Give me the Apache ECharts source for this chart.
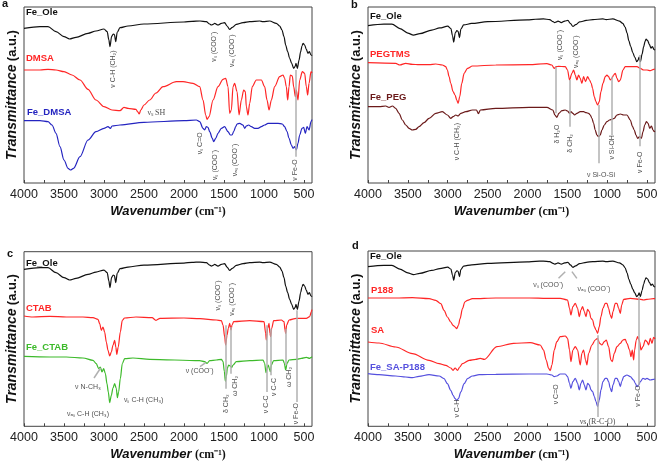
<!DOCTYPE html>
<html><head><meta charset="utf-8">
<script src="https://cdn.jsdelivr.net/npm/echarts@6/dist/echarts.min.js"></script>
<style>html,body{margin:0;padding:0;background:#fff}#c{width:658px;height:464px}</style>
</head><body><div id="c"></div>
<script>
// ---- axis tick labels (wavenumber, cm-1) ----
const wnLabels = [4000,3500,3000,2500,2000,1500,1000,500];
const wnTicks = [4000,3750,3500,3250,3000,2750,2500,2250,2000,1750,1500,1250,1000,750,500];

// ---- spectra: [wavenumber, transmittance (arbitrary units, offset stacked)] ----
const feOle = [[4000,464],[3800,469],[3700,469],[3600,454],[3500,439],[3430,432],[3350,437],[3200,449],[3100,456],[3000,462],[2960,454],[2940,430],[2925,409],[2905,440],[2885,447],[2870,445],[2853,424],[2835,452],[2800,466],[2700,471],[2500,477],[2000,483],[1900,485],[1800,486],[1721,484],[1679,477],[1658,474],[1637,476],[1617,479],[1575,474],[1533,479],[1492,481],[1462,471],[1429,461],[1396,467],[1346,476],[1262,481],[1179,484],[1054,486],[1012,484],[929,486],[846,479],[804,471],[775,459],[750,439],[729,414],[704,394],[679,374],[654,359],[629,344],[612,349],[600,359],[583,344],[562,369],[542,394],[525,411],[512,419],[492,414],[471,401],[450,389],[433,394],[412,384],[400,382]];

const dmsa = [[4000,339],[3800,339],[3700,341],[3600,339],[3500,334],[3400,324],[3300,309],[3200,281],[3100,249],[3000,229],[2900,219],[2800,217],[2750,227],[2700,224],[2600,221],[2580,214],[2560,207],[2540,219],[2500,234],[2429,249],[2350,270],[2262,289],[2096,304],[2012,304],[1887,299],[1804,289],[1762,249],[1729,204],[1712,191],[1687,199],[1637,249],[1575,289],[1512,311],[1479,314],[1450,289],[1429,209],[1408,219],[1387,289],[1367,299],[1337,274],[1312,204],[1283,249],[1254,279],[1233,274],[1221,229],[1200,204],[1179,239],[1146,289],[1096,309],[1033,309],[992,289],[962,249],[937,219],[908,249],[867,289],[804,319],[762,324],[742,314],[721,289],[704,249],[687,289],[671,324],[646,321],[629,289],[608,259],[596,279],[575,249],[554,309],[521,334],[492,329],[471,289],[454,264],[437,299],[412,334],[400,330]];

const feDmsa = [[4000,187],[3800,187],[3700,184],[3650,174],[3600,149],[3550,109],[3500,69],[3450,44],[3420,39],[3380,44],[3300,79],[3200,129],[3100,154],[3000,164],[2950,169],[2920,164],[2900,171],[2800,174],[2500,182],[2000,187],[1846,189],[1804,184],[1762,164],[1742,159],[1721,169],[1700,167],[1679,154],[1646,134],[1629,124],[1604,134],[1575,149],[1533,164],[1492,169],[1450,154],[1421,144],[1400,144],[1379,154],[1354,169],[1337,177],[1304,179],[1262,174],[1242,164],[1221,171],[1192,174],[1158,169],[1117,164],[1075,164],[1033,169],[992,174],[950,179],[887,179],[825,179],[771,177],[742,169],[712,154],[687,134],[658,114],[637,104],[617,109],[596,99],[575,119],[554,144],[525,164],[504,167],[483,149],[462,169],[437,159],[412,184],[400,190]];

const pegtms = [[4000,361],[3653,359],[3600,354],[3527,359],[3443,356],[3360,355],[3234,355],[3150,357],[3067,354],[3025,349],[3004,339],[2983,319],[2962,299],[2933,274],[2908,264],[2887,249],[2870,239],[2849,259],[2824,299],[2794,329],[2752,344],[2690,351],[2397,354],[1978,355],[1756,358],[1694,354],[1664,344],[1639,349],[1610,350],[1526,349],[1497,339],[1472,309],[1442,329],[1421,339],[1400,324],[1380,309],[1359,324],[1338,314],[1317,299],[1296,319],[1271,304],[1246,319],[1221,309],[1200,299],[1183,284],[1162,259],[1141,244],[1120,234],[1099,244],[1078,274],[1053,299],[1024,319],[1003,324],[982,319],[961,309],[940,314],[919,324],[898,329],[877,314],[856,304],[835,309],[802,339],[773,349],[710,349],[626,349],[584,344],[542,339],[500,339],[459,337],[417,341],[400,342]];

const fePeg = [[4000,229],[3862,229],[3778,231],[3736,227],[3694,231],[3653,224],[3611,209],[3569,189],[3527,174],[3485,164],[3443,159],[3401,161],[3360,169],[3297,181],[3234,194],[3150,209],[3067,214],[3004,204],[2962,194],[2933,199],[2899,204],[2870,201],[2836,209],[2773,214],[2690,219],[2640,219],[2615,208],[2590,219],[2397,224],[1978,227],[1756,227],[1681,219],[1656,204],[1631,197],[1606,209],[1568,217],[1526,219],[1497,216],[1472,209],[1455,214],[1430,209],[1409,204],[1380,209],[1338,214],[1296,214],[1263,211],[1233,209],[1212,204],[1191,194],[1170,179],[1150,159],[1129,144],[1108,139],[1087,144],[1066,159],[1036,174],[1003,184],[970,189],[940,191],[911,194],[877,204],[835,207],[793,204],[752,204],[710,189],[681,169],[660,159],[639,144],[618,134],[592,139],[571,134],[550,154],[529,174],[508,184],[487,179],[466,164],[445,171],[425,159],[408,154],[400,155]];

const ctab = [[4000,331],[3888,328],[3679,330],[3471,328],[3263,328],[3138,326],[3075,321],[3054,308],[3033,288],[3013,298],[2992,283],[2971,253],[2950,228],[2929,211],[2908,223],[2888,243],[2867,258],[2852,238],[2840,216],[2822,238],[2796,283],[2771,318],[2742,325],[2600,328],[2400,326],[2350,318],[2300,324],[2000,325],[1800,323],[1596,319],[1533,317],[1512,304],[1492,269],[1479,244],[1462,274],[1446,294],[1429,309],[1412,289],[1400,304],[1379,314],[1179,317],[1000,314],[979,279],[971,259],[954,294],[937,309],[925,279],[917,269],[904,294],[879,317],[783,319],[750,314],[737,289],[729,279],[717,304],[687,319],[596,324],[471,324],[429,329],[408,344],[400,350]];

const feCtab = [[4000,210],[3679,208],[3471,208],[3263,205],[3138,198],[3096,188],[3067,173],[3046,178],[3025,163],[3004,173],[2983,158],[2963,128],[2946,103],[2929,71],[2908,93],[2888,115],[2867,128],[2846,113],[2833,86],[2817,103],[2796,143],[2771,188],[2742,203],[2638,205],[2429,201],[1804,197],[1742,194],[1712,189],[1679,197],[1596,199],[1533,201],[1512,194],[1496,165],[1483,135],[1471,150],[1458,174],[1442,184],[1421,181],[1404,177],[1387,184],[1346,194],[1179,197],[1012,199],[992,189],[975,161],[962,174],[946,184],[929,169],[921,164],[908,184],[879,197],[762,199],[746,189],[729,169],[712,189],[687,199],[596,201],[533,204],[471,207],[429,204],[408,207],[400,209]];

const p188 = [[4000,385],[3653,385],[3443,386],[3234,383],[3150,378],[3087,368],[3046,348],[3004,328],[2962,313],[2933,303],[2907,298],[2887,293],[2866,303],[2845,323],[2815,353],[2786,373],[2753,378],[2690,383],[2397,385],[1978,385],[1756,384],[1589,384],[1497,379],[1472,354],[1455,334],[1430,359],[1400,369],[1371,354],[1350,329],[1329,349],[1308,359],[1287,344],[1266,329],[1245,351],[1224,344],[1203,324],[1182,319],[1161,299],[1140,289],[1120,279],[1099,299],[1078,329],[1053,354],[1024,369],[1003,369],[982,354],[961,334],[944,324],[927,344],[898,369],[877,369],[856,354],[835,339],[818,364],[793,381],[710,384],[584,381],[542,379],[501,381],[417,383],[400,383]];

const sa = [[4000,253],[3862,250],[3653,238],[3443,218],[3234,198],[3108,188],[3025,183],[2962,175],[2933,168],[2907,175],[2878,168],[2849,178],[2815,188],[2732,198],[2648,201],[2593,204],[2540,201],[2384,239],[2175,249],[1965,251],[1840,244],[1798,229],[1765,199],[1735,174],[1714,167],[1693,184],[1664,229],[1631,254],[1589,269],[1526,271],[1497,264],[1472,229],[1455,194],[1430,229],[1400,239],[1371,229],[1338,184],[1317,219],[1296,229],[1271,199],[1254,184],[1233,219],[1191,244],[1150,259],[1120,264],[1095,249],[1066,244],[1036,254],[1011,259],[982,239],[953,199],[936,194],[911,219],[877,239],[835,249],[802,259],[773,261],[752,249],[719,229],[702,209],[685,229],[668,199],[656,229],[635,259],[618,269],[593,254],[576,229],[551,239],[522,259],[501,254],[480,244],[459,264],[438,249],[417,267],[400,262]];

const feSaP188 = [[4000,158],[3862,155],[3653,151],[3527,148],[3443,146],[3360,150],[3234,155],[3108,151],[3046,143],[3004,128],[2962,108],[2933,93],[2907,83],[2887,78],[2866,83],[2836,103],[2794,128],[2752,143],[2690,151],[2606,155],[2397,156],[1978,157],[1756,157],[1693,154],[1664,149],[1631,151],[1589,157],[1526,157],[1497,149],[1472,129],[1455,114],[1430,134],[1400,144],[1371,129],[1350,109],[1329,129],[1308,139],[1287,124],[1266,109],[1245,129],[1224,124],[1203,109],[1182,104],[1161,89],[1140,74],[1120,59],[1099,79],[1078,109],[1053,134],[1024,144],[1003,144],[982,134],[961,114],[944,104],[927,124],[898,144],[877,144],[856,134],[835,119],[818,134],[793,149],[752,154],[710,149],[668,139],[647,129],[626,119],[605,124],[584,134],[551,144],[522,141],[501,144],[459,139],[417,141],[400,142]];

// ---- annotations: [text, wavenumber, y, rotation, serif?] ----
const annotA = [['ν C-H (CH₂)',2885,342,90],['νₛ (COO⁻)',1625,409,90],['νₐₛ (COO⁻)',1400,397,90],['νₛ SH',2346,209,0,1],['νₛ C=O',1804,119,90],['νₛ (COO⁻)',1617,54,90],['νₐₛ (COO⁻)',1367,69,90],['ν Fe-O',617,39,90]];
const annotB = [['νₛ (COO⁻)',1593,414,90],['νₐₛ (COO⁻)',1384,394,90],['ν C-H (CH₂)',2878,124,90],['δ H₂O',1631,147,90],['δ CH₂',1464,119,90],['ν Si-O-Si',1078,24,0],['ν Si-OH',940,107,90],['ν Fe-O',592,62,90]];
const annotC = [['νₛ (COO⁻)',1575,393,90],['νₐₛ (COO⁻)',1396,381,90],['ν N-CH₃',3200,118,0],['νₐₛ C-H (CH₃)',3200,38,0],['νₛ C-H (CH₃)',2504,78,0],['ν (COO⁻)',1804,167,0],['δ CH₂',1479,68,90],['ω CH₂',1360,121,90],['ν C-C',971,66,90],['ν C-C',879,118,90],['ω CH₂',687,148,90],['ν Fe-O',596,38,90]];
const annotD = [['νₛ (COO⁻)',1740,425,0],['νₐₛ (COO⁻)',1166,411,0],['ν C-H',2878,53,90],['ν C=O',1643,96,90],['νs (R-C-O)',1120,13,0,1],['ν Fe-O',617,91,90]];

// ---- grey marker lines: [wavenumber, yTop, yBottom] and leaders [[x1,y1],[x2,y2]] ----
const linesA = [[604,339,79]];
const linesB = [[1639,349,209],[1472,309,169],[1108,234,59],[940,319,144],[592,384,110]];
const linesC = [[1479,303,113],[1412,298,158],[971,303,103],[921,293,153],[729,293,183],[596,348,73]];
const linesD = [[1120,273,28],[610,388,123]];
const leadersC = [[[3042,175],[3125,145]],[[1729,191],[1800,179]]];
const leadersD = [[[1526,464],[1610,444]],[[1442,464],[1380,444]]];

const RED='#ff2626', BLACK='#111', BLUE='#2424c0', MAROON='#6b1a1a', GREEN='#3dba2b', VIOLET='#5550de';

function shift(arr, off, s){ return arr.map(p => [p[0], off + s*(p[1]-477)]); }

const panels = [
  {grid:{left:24, top:7, width:288, height:176}, ymax:528,
   curves:[[shift(feOle,477,1),BLACK],[dmsa,RED],[feDmsa,BLUE]], annot:annotA, lines:linesA, leaders:[]},
  {grid:{left:368, top:7, width:287, height:176}, ymax:528,
   curves:[[shift(feOle,484,0.9),BLACK],[pegtms,RED],[fePeg,MAROON]], annot:annotB, lines:linesB, leaders:[]},
  {grid:{left:24, top:251.7, width:288, height:174.6}, ymax:524,
   curves:[[shift(feOle,484,1),BLACK],[ctab,RED],[feCtab,GREEN]], annot:annotC, lines:linesC, leaders:leadersC},
  {grid:{left:368, top:251, width:287, height:175.3}, ymax:526,
   curves:[[shift(feOle,489,0.75),BLACK],[p188,RED],[sa,RED],[feSaP188,VIOLET]], annot:annotD, lines:linesD, leaders:leadersD}
];

const SANS='Liberation Sans, Arial, sans-serif', SERIF='Liberation Serif, Times New Roman, serif';
const grids=[], xAxes=[], yAxes=[], series=[];
panels.forEach((p,i)=>{
  grids.push(Object.assign({show:true, borderColor:'#444', borderWidth:1, backgroundColor:'rgba(0,0,0,0)',
    containLabel:false, outerBoundsMode:'none'}, p.grid));
  xAxes.push({type:'value', gridIndex:i, min:400, max:4000, inverse:true,
    axisLine:{show:false}, splitLine:{show:false},
    axisTick:{show:true, inside:true, length:3, lineStyle:{color:'#444'}, customValues:wnTicks},
    axisLabel:{customValues:wnLabels, fontSize:12.5, color:'#222', margin:5, fontFamily:SANS,
      formatter:v=>String(v), hideOverlap:false},
    name:'{a|Wavenumber} {b|(cm⁻¹)}', nameLocation:'middle', nameGap:22,
    nameTextStyle:{rich:{a:{fontSize:13, fontWeight:'bold', fontStyle:'italic', fontFamily:SANS, color:'#111'},
                         b:{fontSize:12, fontWeight:'bold', fontFamily:SERIF, color:'#111'}}}});
  yAxes.push({type:'value', gridIndex:i, min:0, max:p.ymax,
    axisLine:{show:false}, axisTick:{show:false}, axisLabel:{show:false}, splitLine:{show:false},
    name:'{a|Transmittance} {b|(a.u.)}', nameLocation:'middle', nameGap:5,
    nameTextStyle:{rich:{a:{fontSize:14, fontWeight:'bold', fontStyle:'italic', fontFamily:SANS, color:'#111'},
                         b:{fontSize:13, fontWeight:'bold', fontFamily:SANS, color:'#111'}}}});
  const ml = p.lines.map(l=>[{coord:[l[0],l[1]]},{coord:[l[0],l[2]]}])
    .concat(p.leaders.map(s=>[{coord:s[0]},{coord:s[1]}]));
  series.push({type:'line', xAxisIndex:i, yAxisIndex:i, data:[], silent:true,
    markLine:{silent:true, symbol:['none','none'], label:{show:false},
      lineStyle:{color:'#b0b0b0', width:1.5, type:'solid'}, data:ml, animation:false}});
  p.curves.forEach(c=>{
    series.push({type:'line', xAxisIndex:i, yAxisIndex:i, data:c[0], symbol:'none',
      smooth:0.3, smoothMonotone:'x', silent:true,
      lineStyle:{color:c[1], width:1.2}, z:3});
  });
  series.push({type:'scatter', xAxisIndex:i, yAxisIndex:i, symbolSize:1, silent:true, z:5,
    itemStyle:{color:'rgba(0,0,0,0)'},
    data:p.annot.map(a=>({value:[a[1],a[2]], label:{show:true, position:'inside', formatter:a[0], rotate:a[3],
      fontSize:a[4]?8:7, fontFamily:a[4]?SERIF:SANS, color:'#222', align:'center', verticalAlign:'middle'}}))});
});

const nameLabels = [
  ['a',2,5,BLACK,11],['b',351,6,BLACK,11],['c',7,255,BLACK,11],['d',352,247,BLACK,11],
  ['Fe_Ole',26,13,BLACK,9.5],['DMSA',26,59,RED,9.5],['Fe_DMSA',27,113,BLUE,9.5],
  ['Fe_Ole',370,17,BLACK,9.5],['PEGTMS',370,55,RED,9.5],['Fe_PEG',370,98,MAROON,9.5],
  ['Fe_Ole',26,264,BLACK,9.5],['CTAB',26,309,RED,9.5],['Fe_CTAB',26,348,GREEN,9.5],
  ['Fe_Ole',370,257,BLACK,9.5],['P188',371,291,RED,9.5],['SA',371,331,RED,9.5],['Fe_SA-P188',370,368,VIOLET,9.5]
];
const graphic = nameLabels.map(n=>({type:'text', left:n[1], top:n[2]-n[4]*0.6, silent:true, z:10,
  style:{text:n[0], fill:n[3], font:'bold '+n[4]+'px '+SANS}}));

const chart = echarts.init(document.getElementById('c'), null, {renderer:'canvas'});
chart.setOption({animation:false, backgroundColor:'#fff', grid:grids, xAxis:xAxes, yAxis:yAxes, series, graphic});
</script></body></html>
